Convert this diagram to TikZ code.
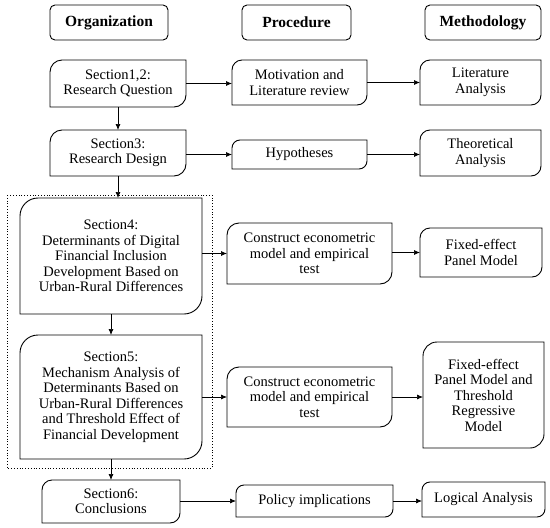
\documentclass[tikz,border=0pt]{standalone}
\usepackage{fontspec}
\setmainfont{Liberation Serif}
\usetikzlibrary{
  arrows.meta,
  calc,
  positioning,
}

% outline with rounded top-left and bottom-right corners
\newcommand{\docbox}[2][10pt]{%
  \draw[line width=0.9pt] (#2.south west) -- ([yshift=-#1]#2.north west)
  arc[start angle=180, end angle=90, radius=#1] -- (#2.north east)
  -- ([yshift=#1]#2.south east)
  arc[start angle=0, end angle=-90, radius=#1] -- cycle;}

\begin{document}
\begin{tikzpicture}[
    x = 1pt,
    y = 1pt,
    n/.style 2 args={
      minimum width=#1pt, minimum height=#2pt,
      inner sep=0pt, outer sep=0pt, align=center,
      font=\fontsize{14.5}{15.5}\selectfont,
    },
    h/.style={
      draw, line width=0.9pt, rounded corners=5pt, minimum height=35pt,
      inner sep=0pt, outer sep=0pt, font=\fontsize{15.5}{17}\selectfont\bfseries,
    },
    a/.style={-{Latex[length=6pt,width=5pt]}, line width=0.7pt},]
  \useasboundingbox (0,0) rectangle (550,-528);
  %% headers
  \node[h, minimum width=118pt] (Org) at (109,-22.5) {Organization};
  \node[h, minimum width=109pt] (Proc) at (296.5,-22.5) {Procedure};
  \node[h, minimum width=116pt] (Meth) at (483,-22.5) {Methodology};
  %% organization column
  \node[n={136}{47}] (S12) at (118,-83.5) {Section1,2:\\Research Question};
  \node[n={136}{46}] (S3) at (118,-153) {Section3:\\Research Design};
  \node[n={182}{116}] (S4) at (111,-256)
  {Section4:\\Determinants of Digital\\Financial Inclusion\\
    Development Based on\\Urban-Rural Differences};
  \node[n={182}{124}] (S5) at (111,-397)
  {Section5:\\Mechanism Analysis of\\Determinants Based on\\
    Urban-Rural Differences\\and Threshold Effect of\\Financial Development};
  \node[n={138}{43}] (S6) at (111,-501.5) {Section6:\\Conclusions};
  %% procedure column
  \node[n={135}{45}] (Motiv) at (299.5,-82.5) {Motivation and\\Literature review};
  \node[n={135}{29}] (Hyp) at (299.5,-154.5) {Hypotheses};
  \node[n={165}{61}] (Con1) at (309.5,-253.5)
  {Construct econometric\\model and empirical\\test};
  \node[n={165}{60}] (Con2) at (309.5,-397)
  {Construct econometric\\model and empirical\\test};
  \node[n={157}{32}] (Pol) at (314.5,-501) {Policy implications};
  %% methodology column
  \node[n={121}{45}] (LitA) at (480.5,-82.5) {Literature\\Analysis};
  \node[n={121}{46}] (TheoA) at (480.5,-153) {Theoretical\\Analysis};
  \node[n={122}{49}] (FE) at (481,-252.5) {Fixed-effect\\Panel Model};
  \node[n={121}{106}] (FEThr) at (483.5,-395)
  {Fixed-effect\\Panel Model and\\Threshold\\Regressive\\Model};
  \node[n={123}{35}] (LogA) at (483.5,-499.5) {Logical Analysis};
  %% outlines
  \foreach \b/\r in {S12/12pt, S3/12pt, S4/18pt, S5/18pt, S6/10pt,
    Motiv/10pt, Hyp/8pt, Con1/12pt, Con2/12pt, Pol/8pt,
    LitA/10pt, TheoA/10pt, FE/10pt, FEThr/14pt, LogA/8pt}
  {\docbox[\r]{\b}}
  %% dotted frame
  \draw[dotted, line width=0.8pt] (7,-195) rectangle (212,-468);
  %% vertical arrows
  \draw[a] (S12.south) -- (S3.north);
  \draw[a] (S3.south) -- (S3.south |- S4.north);
  \draw[a] (S4.south) -- (S5.north);
  \draw[a] (S5.south) -- (S6.north);
  %% horizontal arrows
  \draw[a] (S12.east) -- (S12.east -| Motiv.west);
  \draw[a] (Motiv.east) -- (Motiv.east -| LitA.west);
  \draw[a] (S3.east |- Hyp) -- (Hyp.west);
  \draw[a] (Hyp.east) -- (Hyp.east -| TheoA.west);
  \draw[a] (S4.east |- Con1) -- (Con1.west);
  \draw[a] (Con1.east |- FE) -- (FE.west);
  \draw[a] (S5.east |- Con2) -- (Con2.west);
  \draw[a] (Con2.east) -- (Con2.east -| FEThr.west);
  \draw[a] (S6.east |- Pol) -- (Pol.west);
  \draw[a] (Pol.east) -- (Pol.east -| LogA.west);
\end{tikzpicture}
\end{document}
